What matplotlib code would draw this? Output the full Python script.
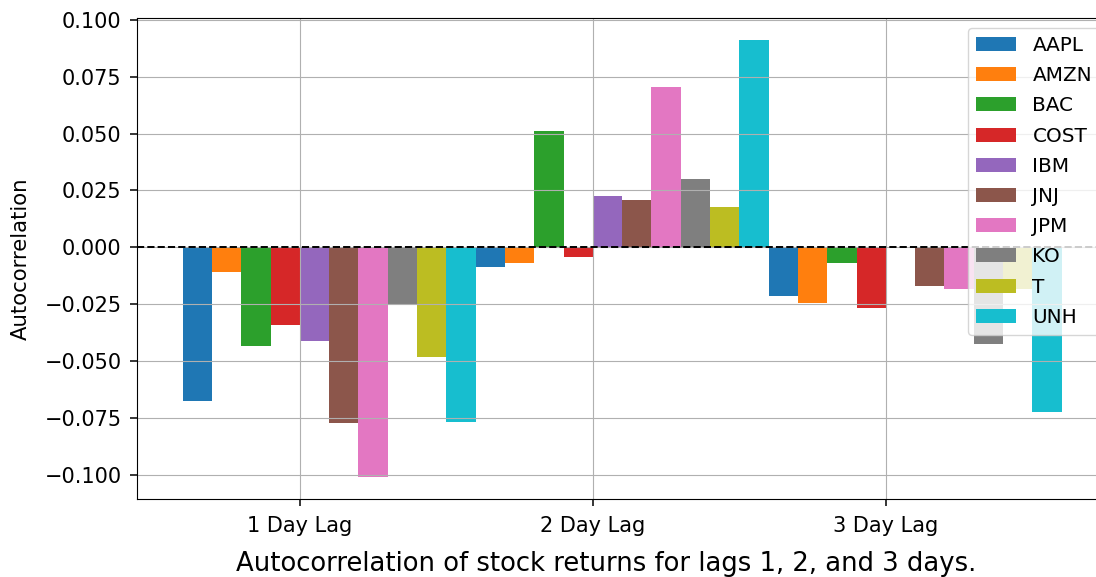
import numpy as np
import matplotlib.pyplot as plt

lags = ['1 Day Lag', '2 Day Lag', '3 Day Lag']
tickers = ['AAPL', 'AMZN', 'BAC', 'COST', 'IBM', 'JNJ', 'JPM', 'KO', 'T', 'UNH']

# autocorrelation per ticker for lag 1, 2, 3
aapl = [-0.0675, -0.0086, -0.0216]
amzn = [-0.0108, -0.0068, -0.0246]
bac = [-0.0433, 0.0512, -0.0069]
cost = [-0.0340, -0.0042, -0.0266]
ibm = [-0.0412, 0.0226, 0.0]
jnj = [-0.0773, 0.0209, -0.0172]
jpm = [-0.1010, 0.0705, -0.0185]
ko = [-0.0250, 0.0301, -0.0424]
t = [-0.0482, 0.0178, -0.0183]
unh = [-0.0767, 0.0912, -0.0723]

series = [aapl, amzn, bac, cost, ibm, jnj, jpm, ko, t, unh]

fig = plt.figure(figsize=(10.96, 5.77), dpi=100)
# axes runs a bit past the right edge (the original picture is cropped there)
ax = fig.add_axes([137 / 1096, 78 / 577, (1110 - 137) / 1096, (499 - 18) / 577])
x = np.arange(len(lags))
w = 0.1
for i, (name, vals) in enumerate(zip(tickers, series)):
    ax.bar(x - 0.35 + i * w, vals, width=w, label=name, color=f'C{i}')

ax.axhline(0, color='black', linestyle='--', linewidth=1.4)
ax.set_xticks(x)
ax.set_xticklabels(lags)
ax.tick_params(axis='both', labelsize=15, length=5, width=1.1)
ax.tick_params(axis='x', pad=7)
ax.tick_params(axis='y', pad=6)
ax.set_xlim(-0.556, 2.765)
ax.set_ylabel('Autocorrelation', fontsize=15.3, labelpad=10)
ax.set_xlabel('Autocorrelation of stock returns for lags 1, 2, and 3 days.', fontsize=18.6, labelpad=11)
ax.xaxis.label.set_x(0.482)
ax.grid(True)
ax.legend(loc='upper right', fontsize=14.4, labelspacing=0.56)

plt.savefig('out.png')
